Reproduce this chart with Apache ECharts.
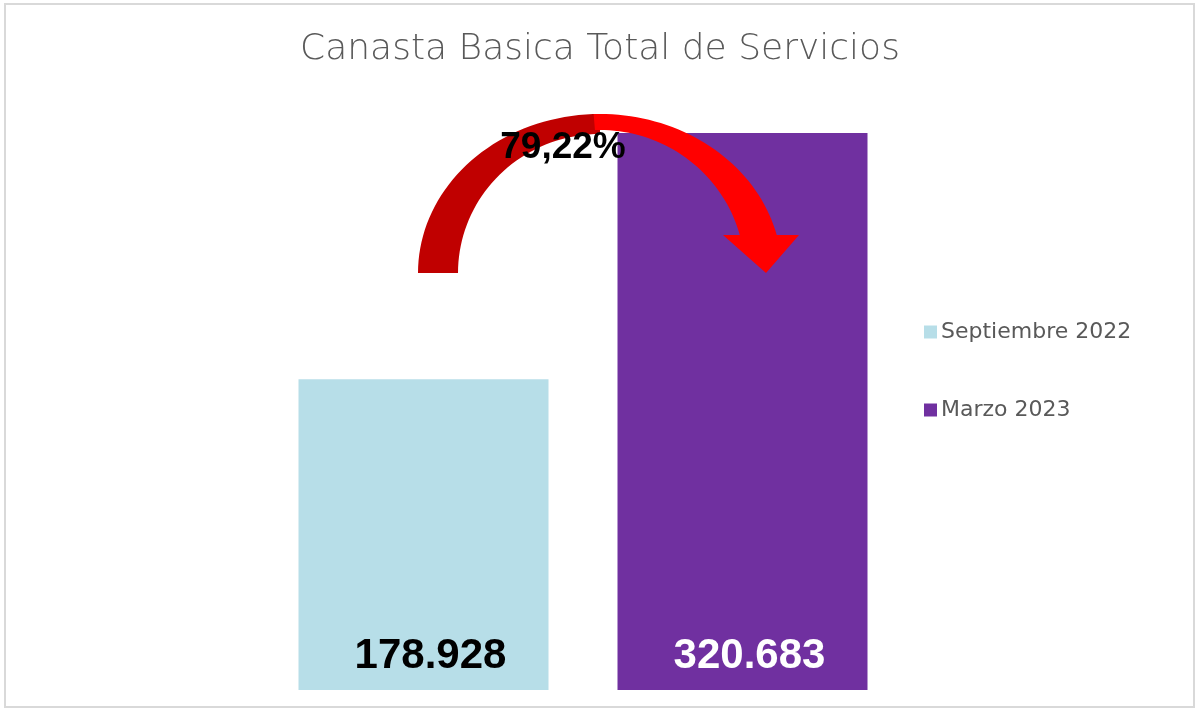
<!DOCTYPE html>
<html>
<head>
<meta charset="utf-8">
<script src="https://cdn.jsdelivr.net/npm/echarts@6/dist/echarts.min.js"></script>
<style>
  html, body { margin: 0; padding: 0; background: #fff; }
  #chart { width: 1200px; height: 718px; }
</style>
</head>
<body>
<div id="chart"></div>
<script>
var seriesNames = ["Septiembre 2022", "Marzo 2023"];
var seriesValues = [178928, 320683];
var seriesColors = ["#B7DEE8", "#7030A0"];
var labelColors = ["#000000", "#ffffff"];
var categories = ["Canasta"];

function miles(v) {
    return String(v).replace(/\B(?=(\d{3})+(?!\d))/g, ".");
}

var variacion = ((seriesValues[1] / seriesValues[0] - 1) * 100).toFixed(2).replace(".", ",") + "%";

// puntos de una elipse entre dos angulos (grados)
function arco(cx, cy, rx, ry, a0, a1, n) {
    var pts = [];
    for (var i = 0; i <= n; i++) {
        var a = (a0 + (a1 - a0) * i / n) * Math.PI / 180;
        pts.push([cx + rx * Math.cos(a), cy - ry * Math.sin(a)]);
    }
    return pts;
}

var cx = 600, cy = 273;
var bandaAtras = arco(cx, cy, 182, 159, 180, 90, 40).concat(arco(cx, cy, 142, 139, 90, 180, 40));
var bandaFrente = arco(cx, cy, 182, 159, 92, 13.8, 40).concat(arco(cx, cy, 145, 143, 15.4, 92, 40));

var series = seriesNames.map(function (name, i) {
    return {
        name: name,
        type: "bar",
        barWidth: 250,
        barGap: "27.6%",
        data: [seriesValues[i]],
        itemStyle: { color: seriesColors[i] },
        label: {
            show: true,
            position: "insideBottom",
            distance: 13,
            offset: [7, 0],
            color: labelColors[i],
            fontFamily: "Liberation Sans",
            fontWeight: "bold",
            fontSize: 42,
            formatter: function (p) { return miles(p.value); }
        }
    };
});

var myChart = echarts.init(document.getElementById("chart"));
myChart.setOption({
    animation: false,
    backgroundColor: "#ffffff",
    title: {
        text: "Canasta Basica Total de Servicios",
        left: "center",
        top: 27,
        textStyle: {
            color: "#595959",
            fontFamily: "DejaVu Sans",
            fontWeight: 200,
            fontSize: 36
        }
    },
    legend: {
        orient: "vertical",
        left: 919,
        top: 316,
        itemWidth: 13,
        itemHeight: 13,
        itemGap: 56,
        icon: "rect",
        textStyle: { color: "#595959", fontFamily: "DejaVu Sans", fontSize: 22, padding: [0, 0, 0, -1] },
        data: seriesNames
    },
    grid: { left: 200, right: 234, top: 82, bottom: 28 },
    xAxis: {
        type: "category",
        data: categories,
        show: false
    },
    yAxis: {
        type: "value",
        min: 0,
        max: 350000,
        show: false
    },
    series: series,
    graphic: [
        {
            type: "rect",
            shape: { x: 5, y: 4, width: 1189, height: 703 },
            style: { fill: "none", stroke: "#D9D9D9", lineWidth: 2 },
            silent: true
        },
        {
            type: "polygon",
            shape: { points: bandaAtras },
            style: { fill: "#C00000" },
            z: 10
        },
        {
            type: "polygon",
            shape: { points: bandaFrente },
            style: { fill: "#FF0000" },
            z: 11
        },
        {
            type: "polygon",
            shape: { points: [[723, 235], [799, 235], [766, 273]] },
            style: { fill: "#FF0000" },
            z: 11
        },
        {
            type: "text",
            x: 563,
            y: 148,
            style: {
                text: variacion,
                fill: "#000000",
                fontFamily: "Liberation Sans",
                fontWeight: "bold",
                fontSize: 37,
                align: "center",
                verticalAlign: "middle"
            },
            z: 12
        }
    ]
});
</script>
</body>
</html>
